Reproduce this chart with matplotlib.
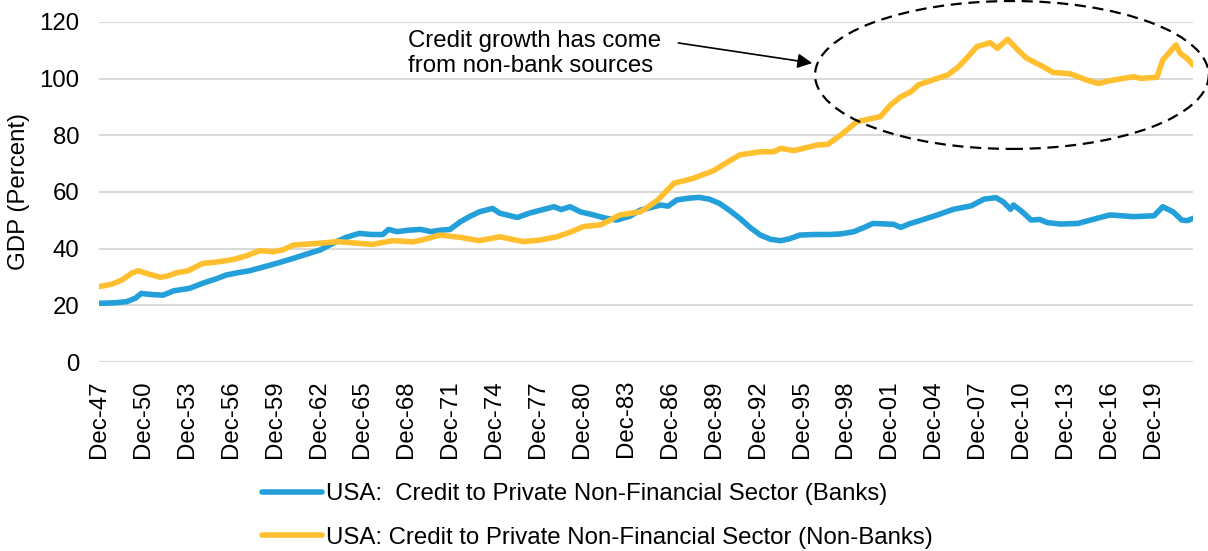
import matplotlib
matplotlib.use("Agg")
import matplotlib.pyplot as plt
from matplotlib.patches import Ellipse
from matplotlib.lines import Line2D

plt.rcParams['font.family'] = ['Liberation Sans', 'DejaVu Sans']

# Credit to private non-financial sector, % of GDP (x = fractional year)
bank_years = [
    1947.92, 1949.0, 1949.8, 1950.4, 1950.8, 1951.5, 1952.3, 1953.0, 1954.1,
    1955.0, 1956.0, 1956.6, 1957.5, 1958.2, 1959.4, 1960.3, 1961.2, 1962.3,
    1963.0, 1963.9, 1964.8, 1965.7, 1966.5, 1967.3, 1967.7, 1968.3, 1969.0,
    1969.9, 1970.6, 1971.2, 1971.9, 1972.6, 1973.3, 1973.9, 1974.8, 1975.3,
    1976.5, 1977.3, 1978.1, 1979.0, 1979.5, 1980.1, 1980.8, 1981.7, 1982.5,
    1983.3, 1984.2, 1984.9, 1985.6, 1986.3, 1986.8, 1987.4, 1988.2, 1988.9,
    1989.6, 1990.3, 1991.0, 1991.7, 1992.4, 1993.1, 1993.8, 1994.5, 1995.1,
    1995.8, 1996.8, 1997.8, 1998.6, 1999.5, 2000.2, 2000.8, 2002.2, 2002.7,
    2003.3, 2004.0, 2005.2, 2006.3, 2007.5, 2008.4, 2009.2, 2009.7, 2010.2,
    2010.4, 2011.0, 2011.6, 2012.2, 2012.7, 2013.6, 2014.8, 2016.1, 2017.0,
    2017.8, 2018.6, 2020.0, 2020.6, 2021.3, 2021.9, 2022.3, 2022.67]
bank_values = [
    20.7, 20.9, 21.3, 22.5, 24.2, 23.8, 23.6, 25.1, 26.0,
    27.8, 29.5, 30.7, 31.6, 32.2, 33.9, 35.2, 36.6, 38.4,
    39.5, 41.9, 44.0, 45.4, 45.0, 45.0, 46.8, 46.0, 46.5,
    46.8, 46.0, 46.5, 46.8, 49.5, 51.5, 53.0, 54.2, 52.5,
    51.0, 52.5, 53.6, 54.8, 53.8, 54.8, 53.0, 51.9, 50.8,
    50.1, 51.5, 53.6, 54.5, 55.4, 55.0, 57.2, 57.8, 58.1,
    57.5, 56.0, 53.5, 50.7, 47.5, 44.8, 43.3, 42.8, 43.5,
    44.8, 45.0, 45.0, 45.2, 46.0, 47.5, 48.9, 48.6, 47.5,
    48.8, 49.9, 51.9, 53.9, 55.1, 57.5, 58.0, 56.5, 53.9,
    55.4, 53.0, 50.1, 50.3, 49.2, 48.7, 48.9, 50.7, 51.9,
    51.6, 51.3, 51.6, 54.8, 53.0, 50.1, 49.9, 50.7]

nonbank_years = [
    1947.92, 1948.8, 1949.5, 1950.2, 1950.6, 1951.2, 1952.1, 1952.7, 1953.2,
    1954.0, 1955.0, 1956.0, 1957.1, 1958.0, 1958.9, 1959.8, 1960.5, 1961.2,
    1962.1, 1963.2, 1964.2, 1965.4, 1966.6, 1967.3, 1968.0, 1969.4, 1970.3,
    1971.2, 1972.6, 1973.9, 1975.3, 1976.9, 1978.0, 1979.2, 1980.2, 1981.0,
    1982.2, 1983.5, 1984.9, 1985.5, 1986.1, 1987.2, 1988.5, 1989.9, 1991.0,
    1991.7, 1993.1, 1994.0, 1994.5, 1995.4, 1997.0, 1997.7, 1998.6, 1999.7,
    2001.3, 2002.0, 2002.7, 2003.4, 2003.9, 2005.2, 2005.9, 2006.6, 2007.2,
    2007.9, 2008.8, 2009.3, 2010.0, 2010.7, 2011.3, 2012.4, 2013.1, 2014.3,
    2015.4, 2016.2, 2017.0, 2017.9, 2018.6, 2019.1, 2020.2, 2020.6, 2021.5,
    2021.8, 2022.3, 2022.67]
nonbank_values = [
    26.6, 27.5, 29.0, 31.5, 32.2, 31.2, 29.9, 30.5, 31.5,
    32.2, 34.8, 35.3, 36.2, 37.5, 39.3, 38.9, 39.6, 41.3,
    41.6, 42.0, 42.5, 42.0, 41.5, 42.2, 42.8, 42.4, 43.5,
    44.8, 44.0, 42.8, 44.2, 42.5, 43.0, 44.2, 46.0, 47.8,
    48.4, 51.9, 53.0, 55.0, 57.2, 63.1, 64.8, 67.5, 71.0,
    73.1, 74.2, 74.2, 75.4, 74.6, 76.6, 76.8, 80.1, 84.8,
    86.6, 90.7, 93.6, 95.4, 97.8, 100.1, 101.3, 104.0, 107.2,
    111.3, 112.7, 110.7, 113.9, 110.1, 107.2, 104.3, 102.2, 101.7,
    99.5, 98.3, 99.3, 100.1, 100.7, 100.1, 100.5, 106.6, 111.9,
    108.9, 107.0, 104.8]

tick_years = [1947.917 + 3 * k for k in range(25)]
tick_labels = ["Dec-{:02d}".format(int(y) % 100) for y in tick_years]

labels = ["USA:  Credit to Private Non-Financial Sector (Banks)",
          "USA: Credit to Private Non-Financial Sector (Non-Banks)"]
colors = ['#239FDA', '#FFBF2F']
fs = 17.3

fig = plt.figure(figsize=(12.08, 5.51), dpi=100)
ax = fig.add_axes([0.0820, 0.3430, 0.9056, 0.6171])

ax.plot(bank_years, bank_values, color=colors[0], lw=4.0,
        solid_capstyle='round', solid_joinstyle='round', zorder=3)
ax.plot(nonbank_years, nonbank_values, color=colors[1], lw=4.0,
        solid_capstyle='round', solid_joinstyle='round', zorder=4)

ax.set_xlim(1947.917, 2022.667)
ax.set_ylim(0, 120)
ax.set_yticks(range(0, 121, 20))
ax.set_xticks(tick_years)
ax.set_xticklabels(tick_labels, rotation=90, va='top', ha='center')
ax.tick_params(axis='both', length=0, labelsize=fs, colors='black')
ax.tick_params(axis='x', pad=13)
ax.tick_params(axis='y', pad=14)
ax.grid(axis='y', color='#D9D9D9', lw=1.5, zorder=0)
for sp in ax.spines.values():
    sp.set_visible(False)
ax.set_ylabel("GDP (Percent)", fontsize=fs, labelpad=7)

# dashed ring around the non-bank surge
ring = Ellipse((2010.29, 101.3), width=26.9, height=52.2, fill=False,
               ls=(0, (5, 3)), lw=1.6, ec='black', clip_on=False, zorder=5)
ax.add_patch(ring)

ax.text(1969.04, 108.9, "Credit growth has come\nfrom non-bank sources",
        fontsize=fs, va='center', ha='left', linespacing=1.15)
ax.annotate("", xy=(1996.65, 105.5), xytext=(1987.5, 112.6),
            arrowprops=dict(arrowstyle='-|>', mutation_scale=22, lw=1.2,
                            color='black', shrinkA=0, shrinkB=0))

handles = [Line2D([], [], color=c, lw=4.0, solid_capstyle='round')
           for c in colors]
fig.legend(handles, labels, loc='upper left',
           bbox_to_anchor=(262 / 1208, 1 - 483 / 551), frameon=False,
           fontsize=fs, handlelength=2.5, handletextpad=0.15,
           labelspacing=0.9, borderpad=0, borderaxespad=0)

fig.savefig("out.png", dpi=100)
